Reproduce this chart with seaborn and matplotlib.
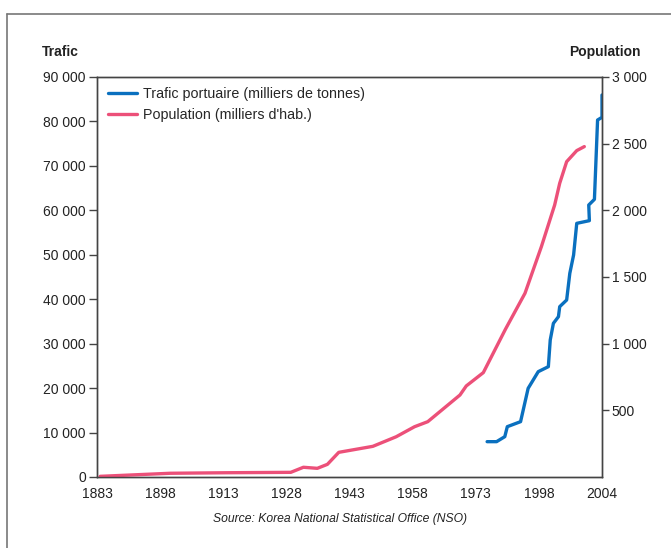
import numpy as np
import pandas as pd
import matplotlib
matplotlib.use('Agg')
import matplotlib.pyplot as plt
import seaborn as sns
from matplotlib.ticker import FuncFormatter
from matplotlib.lines import Line2D

# ============================================================================
# DONNÉES (axe des catégories 0..8)
# ============================================================================

X_LABELS = ['1883', '1898', '1913', '1928', '1943', '1958', '1973', '1998', '2004']

# Population (milliers d'hab.) - axe de droite
pop_pos = [0.05, 1.16, 2.06, 3.07, 3.27, 3.49, 3.65, 3.83, 4.37, 4.74, 5.03, 5.24,
           5.75, 5.85, 6.12, 6.47, 6.78, 7.04, 7.25, 7.33, 7.44, 7.60, 7.72]
pop_val = [5, 28, 32, 35, 73, 65, 95, 185, 230, 302, 377, 415,
           615, 683, 783, 1108, 1378, 1728, 2040, 2203, 2365, 2448, 2478]

# Trafic portuaire (milliers de tonnes) - axe de gauche
traf_pos = [6.18, 6.33, 6.46, 6.50, 6.71, 6.83, 6.99, 7.15, 7.18, 7.23, 7.31, 7.33,
            7.44, 7.49, 7.55, 7.60, 7.80, 7.79, 7.88, 7.93, 8.0, 8.0]
traf_val = [7950, 7950, 9075, 11325, 12450, 19950, 23700, 24825, 30825, 34575, 36075, 38325,
            39825, 45825, 49950, 57075, 57675, 61200, 62475, 80325, 80925, 85950]

BLUE = '#0a70bf'
PINK = '#ec5079'
TXT = '#222222'

sns.set_theme(style='white')
plt.rcParams['font.family'] = ['Liberation Sans', 'DejaVu Sans']

df_pop = pd.DataFrame({'pos': pop_pos, 'val': pop_val})
df_traf = pd.DataFrame({'pos': traf_pos, 'val': traf_val})

fig = plt.figure(figsize=(6.71, 5.48), dpi=100)
ax = fig.add_axes([97 / 671, 1 - 477 / 548, 505 / 671, 400 / 548])
ax2 = ax.twinx()

sns.lineplot(data=df_traf, x='pos', y='val', ax=ax, color=BLUE, linewidth=2.4,
             sort=False, estimator=None)
sns.lineplot(data=df_pop, x='pos', y='val', ax=ax2, color=PINK, linewidth=2.4,
             sort=False, estimator=None)

ax.set_xlim(0, 8)
ax.set_ylim(0, 90000)
ax2.set_ylim(0, 3000)
ax.set_xticks(range(len(X_LABELS)))
ax.set_xticklabels(X_LABELS)
ax.set_yticks(np.arange(0, 90001, 10000))
ax2.set_yticks(np.arange(500, 3001, 500))

fmt = FuncFormatter(lambda v, p: f'{int(v):,}'.replace(',', ' '))
ax.yaxis.set_major_formatter(fmt)
ax2.yaxis.set_major_formatter(fmt)

for a in (ax, ax2):
    a.set_xlabel('')
    a.set_ylabel('')
    for s in a.spines.values():
        s.set_color('#444444')
        s.set_linewidth(1.0)
ax.tick_params(axis='y', left=True, length=6, width=1, color='#444444',
               labelsize=10, labelcolor=TXT, pad=2)
ax2.tick_params(axis='y', right=True, length=5, width=1, color='#444444',
                labelsize=10, labelcolor=TXT, pad=2)
ax.tick_params(axis='x', bottom=False, labelsize=10, labelcolor=TXT, pad=1.5)

handles = [Line2D([], [], color=BLUE, linewidth=2.4),
           Line2D([], [], color=PINK, linewidth=2.4)]
ax.legend(handles, ['Trafic portuaire (milliers de tonnes)', "Population (milliers d'hab.)"],
          loc='upper left', frameon=False, fontsize=10.3, handlelength=2.0,
          handletextpad=0.45, borderaxespad=0.3, labelspacing=0.5,
          bbox_to_anchor=(0.002, 1.0))

fig.text(42 / 671, 1 - 52 / 548, 'Trafic', fontsize=10, fontweight='bold',
         color=TXT, ha='left', va='center')
fig.text(641 / 671, 1 - 52 / 548, 'Population', fontsize=10, fontweight='bold',
         color=TXT, ha='right', va='center')
fig.text(340 / 671, 1 - 519 / 548, 'Source: Korea National Statistical Office (NSO)',
         fontsize=8.7, style='italic', color=TXT, ha='center', va='center')

# cadre (haut et gauche)
fig.add_artist(Line2D([7 / 671, 7 / 671], [0, 1 - 14 / 548], transform=fig.transFigure,
                      color='#777777', linewidth=1.2))
fig.add_artist(Line2D([7 / 671, 1], [1 - 14 / 548, 1 - 14 / 548], transform=fig.transFigure,
                      color='#777777', linewidth=1.2))

fig.savefig('out.png', dpi=100)
